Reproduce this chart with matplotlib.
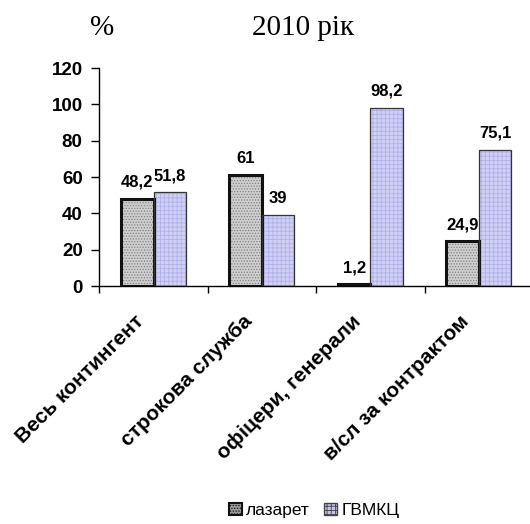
import numpy as np
import matplotlib.pyplot as plt
from matplotlib.patches import Patch

categories = ["Весь контингент", "строкова служба", "офіцери, генерали", "в/сл за контрактом"]
lazaret = [48.2, 61, 1.2, 24.9]
gvmkc = [51.8, 39, 98.2, 75.1]
series_names = ["лазарет", "ГВМКЦ"]

plt.rcParams['font.family'] = ['Liberation Sans', 'DejaVu Sans']
plt.rcParams['hatch.linewidth'] = 0.6

fig = plt.figure(figsize=(5.3, 5.24), dpi=100)
ax = fig.add_axes([0.1875, 0.454, 0.818, 0.416])

x = np.arange(len(categories))
w = 0.3

laz_style = dict(color="#cfcfcf", edgecolor="#808080", hatch="......", linewidth=0)
gv_style = dict(color="#d0d0f6", edgecolor="#b0b0e6", hatch="++++", linewidth=0)

# лазарет: сірий крапчастий з товстою рамкою
ax.bar(x - w / 2, lazaret, w, zorder=2, **laz_style)
ax.bar(x - w / 2, lazaret, w, fill=False, edgecolor="#111111", linewidth=2.2, zorder=3)
# ГВМКЦ: бузкова сітка з тонкою рамкою
ax.bar(x + w / 2, gvmkc, w, zorder=2, **gv_style)
ax.bar(x + w / 2, gvmkc, w, fill=False, edgecolor="#333333", linewidth=0.9, zorder=3)

def fmt(v):
    return (f"{v:g}").replace(".", ",")

for xs, vals in [(x - w / 2, lazaret), (x + w / 2, gvmkc)]:
    for xi, v in zip(xs, vals):
        ax.annotate(fmt(v), (xi, v), xytext=(0, 8.5), textcoords="offset points",
                    ha="center", va="baseline", fontsize=12, fontweight="bold")

ax.set_xlim(-0.5, len(categories) - 0.5)
ax.set_ylim(0, 120)
ax.set_yticks(range(0, 121, 20))
ax.tick_params(axis="y", labelsize=13.5, length=6, width=1, pad=6)
for lbl in ax.get_yticklabels():
    lbl.set_fontweight("bold")

ax.set_xticks(np.arange(len(categories) + 1) - 0.5)
ax.set_xticklabels([])
ax.tick_params(axis="x", length=5, width=1)
for xi, name in zip(x, categories):
    ax.text(xi - 0.18, -14, name, rotation=45, ha="right", va="top",
            rotation_mode="anchor", fontsize=15, fontweight="bold")

ax.spines["top"].set_visible(False)
ax.spines["right"].set_visible(False)
ax.spines["left"].set_linewidth(1)
ax.spines["bottom"].set_linewidth(1)

fig.text(0.193, 0.947, "%", fontsize=21, family="Liberation Serif", ha="center", va="center")
fig.text(0.571, 0.947, "2010 рік", fontsize=21, family="Liberation Serif",
         ha="center", va="center")

handles = [Patch(facecolor="#9a9a9a", edgecolor="#111111", hatch="......", linewidth=1.5),
           Patch(facecolor="#c4c4ee", edgecolor="#444444", hatch="++++", linewidth=1.0)]
fig.legend(handles=handles, labels=series_names, loc="center", bbox_to_anchor=(0.593, 0.026),
           ncol=2, frameon=False, fontsize=12.5, handlelength=0.75, handleheight=0.75,
           handletextpad=0.25, columnspacing=0.8)

fig.savefig("out.png", dpi=100)
